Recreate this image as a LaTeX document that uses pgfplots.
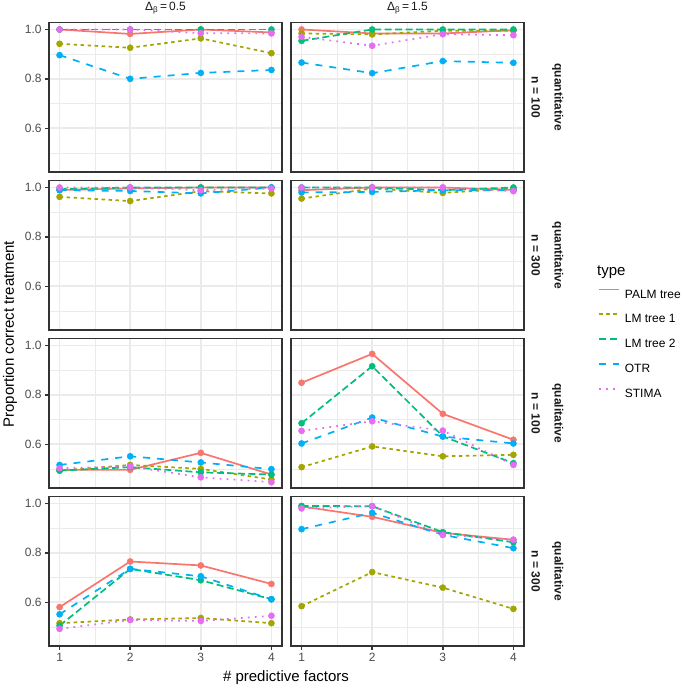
\documentclass[border=0pt]{standalone}
\usepackage{pgfplots}
\usepackage{pgfplotstable}
\pgfplotsset{compat=1.18}
\usepackage{fontspec}
\setmainfont{Liberation Sans}
\definecolor{c1}{HTML}{F8766D}
\definecolor{c2}{HTML}{A3A500}
\definecolor{c3}{HTML}{00BF7D}
\definecolor{c4}{HTML}{00B0F6}
\definecolor{c5}{HTML}{E76BF3}
\definecolor{g92}{gray}{0.92}
\definecolor{g20}{gray}{0.2}
\definecolor{g30}{gray}{0.3}
\definecolor{g10}{gray}{0.1}
\newcommand\ftick{\fontsize{12}{14}\selectfont}
\newcommand\ftitle{\fontsize{15}{17}\selectfont}

% columns: x PALM LM1 LM2 OTR STIMA
\pgfplotstableread{
x palm lma lmb otr stima
1 1.000 0.942 1.000 0.896 1.000
2 0.982 0.926 1.000 0.800 1.000
3 1.000 0.964 1.000 0.824 0.985
4 0.988 0.904 1.000 0.836 0.984
}\tAa
\pgfplotstableread{
x palm lma lmb otr stima
1 1.000 0.984 0.954 0.866 0.970
2 0.984 0.980 1.000 0.823 0.934
3 0.984 0.995 1.000 0.872 0.981
4 0.997 0.995 1.000 0.865 0.977
}\tAb
\pgfplotstableread{
x palm lma lmb otr stima
1 0.990 0.962 0.993 0.989 1.000
2 0.996 0.945 1.000 0.986 1.000
3 1.000 0.985 1.000 0.976 0.989
4 1.000 0.976 1.000 1.000 0.996
}\tBa
\pgfplotstableread{
x palm lma lmb otr stima
1 0.989 0.955 1.000 0.980 1.000
2 1.000 0.996 1.000 0.982 1.000
3 1.000 0.978 0.989 0.989 1.000
4 0.990 0.996 1.000 0.989 0.985
}\tBb
\pgfplotstableread{
x palm lma lmb otr stima
1 0.496 0.493 0.493 0.516 0.503
2 0.496 0.516 0.507 0.551 0.510
3 0.565 0.500 0.486 0.526 0.466
4 0.477 0.457 0.477 0.499 0.446
}\tCa
\pgfplotstableread{
x palm lma lmb otr stima
1 0.849 0.507 0.685 0.603 0.654
2 0.966 0.591 0.916 0.708 0.693
3 0.723 0.551 0.632 0.631 0.655
4 0.618 0.557 0.523 0.603 0.516
}\tCb
\pgfplotstableread{
x palm lma lmb otr stima
1 0.580 0.515 0.505 0.551 0.492
2 0.765 0.530 0.735 0.735 0.528
3 0.749 0.536 0.689 0.705 0.524
4 0.674 0.515 0.612 0.612 0.545
}\tDa
\pgfplotstableread{
x palm lma lmb otr stima
1 0.988 0.584 0.990 0.896 0.980
2 0.946 0.722 0.989 0.962 0.989
3 0.881 0.659 0.884 0.873 0.873
4 0.853 0.573 0.843 0.819 0.853
}\tDb

\pgfplotsset{
  panel/.style={
    width=233pt, height=149.3pt, scale only axis, anchor=north west,
    xmin=0.85, xmax=4.15, ymin=0.4225, ymax=1.0275,
    xtick={1,2,3,4}, ytick={0.6,0.8,1.0},
    minor xtick={1.5,2.5,3.5}, minor ytick={0.5,0.7,0.9},
    grid=both,
    major grid style={draw=g92, line width=1.5pt},
    minor grid style={draw=g92, line width=0.75pt},
    axis line style={draw=g20, line width=1.4pt},
    tick align=outside, major tick length=3.8pt, minor tick length=0pt,
    tick style={draw=g20, line width=1.4pt},
    xtick pos=bottom, ytick pos=left,
    tick label style={font=\ftick, text=g30},
    xticklabels={}, yticklabels={},
    xtick style={draw=none}, ytick style={draw=none},
    clip=false,
  },
  leftc/.style={yticklabels={0.6,0.8,1.0}, ytick style={draw=g20, line width=1.4pt}},
  botr/.style={xticklabels={1,2,3,4}, xtick style={draw=g20, line width=1.4pt}},
  sPALM/.style={draw=c1, color=c1, line width=1.7pt},
  sLMa/.style={color=c2, line width=1.7pt, dash pattern=on 3.5pt off 3.5pt},
  sLMb/.style={color=c3, line width=1.7pt, dash pattern=on 7pt off 3.5pt},
  sOTR/.style={color=c4, line width=1.7pt, dash pattern=on 7pt off 7pt},
  sSTIMA/.style={color=c5, line width=1.7pt, dash pattern=on 1.75pt off 5.25pt},
  mk/.style={only marks, mark=*, mark size=3.1pt, mark options={solid, fill=#1, draw=#1, line width=0.4pt}},
}
\newcommand\panellines[1]{%
  \addplot[sPALM] table[x=x,y=palm]{#1};
  \addplot[sLMa] table[x=x,y=lma]{#1};
  \addplot[sLMb] table[x=x,y=lmb]{#1};
  \addplot[sOTR] table[x=x,y=otr]{#1};
  \addplot[sSTIMA] table[x=x,y=stima]{#1};
  \addplot[mk=c1, forget plot] table[x=x,y=palm]{#1};
  \addplot[mk=c2, forget plot] table[x=x,y=lma]{#1};
  \addplot[mk=c3, forget plot] table[x=x,y=lmb]{#1};
  \addplot[mk=c4, forget plot] table[x=x,y=otr]{#1};
  \addplot[mk=c5, forget plot] table[x=x,y=stima]{#1};
}

\begin{document}
\begin{tikzpicture}
\useasboundingbox (0pt,0pt) rectangle (685pt,-689pt);

\begin{axis}[panel, leftc, at={(49pt,-22.7pt)}]
\panellines{\tAa}
\end{axis}
\begin{axis}[panel, at={(291pt,-22.7pt)}]
\panellines{\tAb}
\end{axis}

\begin{axis}[panel, leftc, at={(49pt,-180.7pt)}]
\panellines{\tBa}
\end{axis}
\begin{axis}[panel, at={(291pt,-180.7pt)},
  legend style={at={(1.3176,-0.087)}, anchor=west, draw=none, fill=none,
    inner sep=0pt, row sep=15.4pt, column sep=5pt, font=\ftick,
    nodes={inner sep=0pt, text height=8.6pt, text depth=0pt}},
  legend cell align=left,
  legend image code/.code={\draw[#1,mark=none,line width=1.7pt] (0pt,4.3pt) -- (20pt,4.3pt);}]
\addlegendimage{sPALM}
\addlegendimage{sLMa}
\addlegendimage{sLMb}
\addlegendimage{sOTR}
\addlegendimage{sSTIMA}
\panellines{\tBb}
\legend{PALM tree, LM tree 1, LM tree 2, OTR, STIMA}
\end{axis}

\begin{axis}[panel, leftc, at={(49pt,-338.7pt)}]
\panellines{\tCa}
\end{axis}
\begin{axis}[panel, at={(291pt,-338.7pt)}]
\panellines{\tCb}
\end{axis}

\begin{axis}[panel, leftc, botr, at={(49pt,-496.7pt)}]
\panellines{\tDa}
\end{axis}
\begin{axis}[panel, botr, at={(291pt,-496.7pt)}]
\panellines{\tDb}
\end{axis}

% strip labels and titles
\node[font=\ftick, text=g10] at (165.5pt,-8pt) {Δ\textsubscript{β}\,=\,0.5};
\node[font=\ftick, text=g10] at (407.5pt,-8pt) {Δ\textsubscript{β}\,=\,1.5};
\foreach \yc/\nn/\tt in {97.3/100/quantitative, 255.4/300/quantitative, 413.2/100/qualitative, 571.2/300/qualitative}{
  \node[font=\ftick\bfseries, text=g10, rotate=-90] at (535.7pt,-\yc pt) {n = \nn};
  \node[font=\ftick\bfseries, text=g10, rotate=-90] at (557.7pt,-\yc pt) {\tt};
}
\node[font=\ftitle, rotate=90] at (10pt,-334.2pt) {Proportion correct treatment};
\node[font=\ftitle] at (286pt,-678pt) {\# predictive factors};
\node[font=\ftitle, anchor=west, inner sep=0pt] at (597pt,-272pt) {type};
\end{tikzpicture}
\end{document}
